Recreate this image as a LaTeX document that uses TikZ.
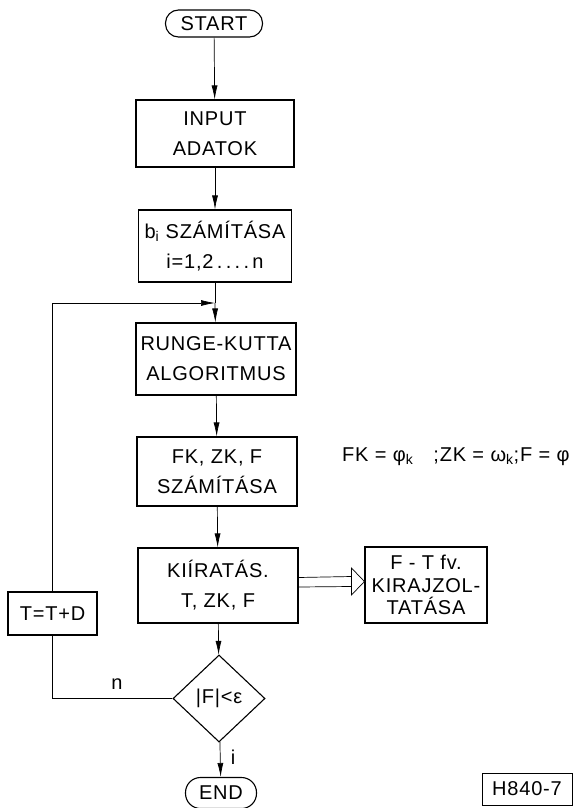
\documentclass[tikz,border=0pt]{standalone}
\usepackage{fontspec}
\setmainfont[LetterSpace=4]{Liberation Sans}
\usetikzlibrary{arrows.meta,shapes.geometric,calc}
\begin{document}
\begin{tikzpicture}[x=1pt,y=-1pt,
  font=\fontsize{20}{30}\selectfont,
  box/.style={draw,line width=1.1pt,align=center,inner sep=0pt},
  term/.style={draw,line width=1.1pt,inner sep=0pt},
  flow/.style={line width=0.7pt,-{Latex[length=14pt,width=6pt]}},
  conn/.style={line width=0.7pt},
  lbl/.style={inner sep=0pt}
]
\useasboundingbox (0,0) rectangle (573,808);
% column nodes
\node[term,minimum width=97pt,minimum height=27pt,rounded corners=13pt] (start) at (214,23.5) {START};
\node[box,minimum width=158pt,minimum height=67pt] (input) at (215,133.5) {INPUT\\ADATOK};
\node[box,minimum width=153pt,minimum height=72pt] (bi) at (215,246) {b\textsubscript{i} SZÁMÍTÁSA\\i=1,2\,.\,.\,.\,.\,n};
\coordinate (jn) at (215,303);
\node[box,minimum width=160pt,minimum height=72pt] (rk) at (216,359) {RUNGE-KUTTA\\ALGORITMUS};
\node[box,minimum width=160pt,minimum height=69pt] (fk) at (217,471.5) {FK, ZK, F\\SZÁMÍTÁSA};
\node[box,minimum width=160pt,minimum height=75pt] (ki) at (218,585.5) {KIÍRATÁS.\\T, ZK, F};
\node[box,minimum width=122pt,minimum height=76pt,font=\fontsize{20}{22.5}\selectfont] (ft) at (426,585) {F - T fv.\\KIRAJZOL-\\TATÁSA};
\node[box,minimum width=89pt,minimum height=43pt] (tt) at (52.5,613.5) {T=T+D};
\node[draw,diamond,line width=1.1pt,minimum width=92pt,minimum height=87pt,inner sep=0pt] (dec) at (219,698.5) {|F|<ε};
\node[term,minimum width=71pt,minimum height=31pt,rounded corners=15pt] (end) at (221,793) {END};
% side texts
\node[lbl,anchor=west] (eq) at (342,457) {FK = φ\textsubscript{k}\quad;ZK = ω\textsubscript{k};F = φ};
\node[draw,line width=0.8pt,minimum width=90pt,minimum height=32pt,inner sep=0pt] (code) at (527,789) {H840-7};
\node[lbl] (nlab) at (117,684) {n};
\node[lbl] (ilab) at (233,757) {i};
% connectors
\draw[flow] (start) -- (input);
\draw[flow] (input) -- (bi);
\draw[conn] (bi) -- (jn);
\draw[flow] (jn) -- (rk);
\draw[flow] (rk) -- (fk);
\draw[flow] (fk) -- (ki);
\draw[flow] (ki) -- (dec);
\draw[flow] (dec) -- (end);
\draw[conn] (dec.west) -| (tt.south);
\draw[flow] (tt.north) |- (jn);
% double arrow
\draw[conn] ($(ki.east)+(0,-8)$) -- ($(ft.west)+(-13,-8.5)$);
\draw[conn] ($(ki.east)+(0,1.5)$) -- ($(ft.west)+(-13,1.5)$);
\draw[conn,fill=white] ($(ft.west)+(-13,-17)$) -- ($(ft.west)+(0,-3.5)$) -- ($(ft.west)+(-13,10)$) -- cycle;
\end{tikzpicture}
\end{document}
